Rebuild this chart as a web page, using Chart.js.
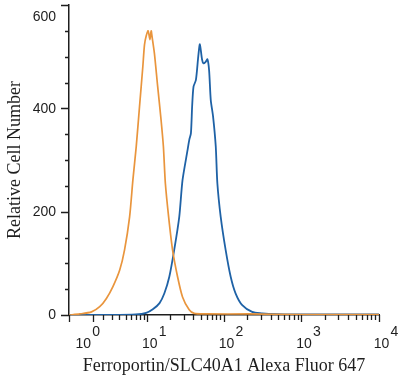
<!DOCTYPE html>
<html>
<head>
<meta charset="utf-8">
<script src="https://cdn.jsdelivr.net/npm/chart.js"></script>
<style>
  html, body { margin: 0; padding: 0; background: #ffffff; }
  #wrap { width: 400px; height: 377px; }
</style>
</head>
<body>
<div id="wrap"><canvas id="c" width="400" height="377"></canvas></div>
<script>
// ---- data (fluorescence intensity vs relative cell number) ----
const controlX = [-1.1, -0.14, 0.88, 1.65, 2.35, 3.12, 4.05, 4.81, 5.71, 6.36, 7.09, 7.87, 8.74, 9.20, 9.70, 10.3, 10.9, 11.3, 11.7, 12.5, 13.8, 15.3, 16.4, 17.4, 19.2, 21.6, 25.1, 29.1, 35.5, 41.2, 60, 209, 1000, 10000];
const controlY = [0, 2, 6, 16, 32, 55, 87, 126, 190, 261, 326, 403, 481, 523, 540, 550, 533, 550, 536, 506, 442, 377, 326, 255, 190, 126, 74, 35, 10, 3, 2, 2, 1, 1];

const stainedX = [-1.1, 3, 7, 9.7, 11.9, 14.6, 16.9, 19.6, 22.7, 26.4, 29.1, 33.8, 35.6, 37.4, 38.8, 40.4, 43.4, 46.5, 48.8, 52, 54.3, 58, 61.1, 64.2, 67.5, 72.3, 78.3, 82.1, 90.7, 105, 122, 141, 172, 231, 310, 378, 1000, 10000];
const stainedY = [0, 0, 1, 4, 11, 23, 42, 74, 126, 190, 261, 319, 339, 352, 405, 442, 455, 500, 524, 495, 487, 490, 495, 474, 416, 384, 326, 255, 190, 126, 74, 42, 19, 6, 3, 2, 1, 1];

const xMajorTicks = [1, 10, 100, 1000, 10000];
const xTickExponents = ['0', '1', '2', '3', '4'];
const yMajorTicks = [0, 200, 400, 600];
const yMinorStep = 50;

const xTitle = 'Ferroportin/SLC40A1 Alexa Fluor 647';
const yTitle = 'Relative Cell Number';

// ---- biexponential (arcsinh) axis transform ----
const BIEX_C = 1.45;
function gfun(v) { return Math.asinh(v / (2 * BIEX_C)) / Math.LN10 + Math.log10(BIEX_C); }
function ginv(G) { return 2 * BIEX_C * Math.sinh((G - Math.log10(BIEX_C)) * Math.LN10); }

class BiexScale extends Chart.LinearScale {
  determineDataLimits() { this.min = this.options.min; this.max = this.options.max; }
  buildTicks() { return xMajorTicks.map(v => ({ value: v, major: true })); }
  configure() {
    super.configure();
    this._g0 = gfun(this.min);
    this._gr = gfun(this.max) - gfun(this.min);
  }
  getPixelForValue(v) { return this.getPixelForDecimal((gfun(v) - this._g0) / this._gr); }
  getValueForPixel(p) { return ginv(this.getDecimalForPixel(p) * this._gr + this._g0); }
}
BiexScale.id = 'biex';
BiexScale.defaults = {};
Chart.register(BiexScale);

const INK = '#1e1e1e';

const axisDecor = {
  id: 'axisDecor',
  afterDraw(chart) {
    const ctx = chart.ctx;
    const xs = chart.scales.x, ys = chart.scales.y;
    const y0 = ys.getPixelForValue(0);
    const xl = xs.left;
    ctx.save();
    ctx.strokeStyle = INK;
    ctx.lineWidth = 1.3;
    ctx.beginPath();
    // x major ticks + axis-start tick
    [xs.min].concat(xMajorTicks).forEach(v => {
      const px = Math.round(xs.getPixelForValue(v)) + 0.5;
      ctx.moveTo(px, y0); ctx.lineTo(px, y0 + 7);
    });
    // x minor ticks
    for (let d = 0; d < xMajorTicks.length - 1; d++) {
      for (let k = 2; k <= 9; k++) {
        const px = Math.round(xs.getPixelForValue(k * xMajorTicks[d])) + 0.5;
        ctx.moveTo(px, y0); ctx.lineTo(px, y0 + 5);
      }
    }
    // y ticks
    for (let v = 0; v <= ys.max; v += yMinorStep) {
      const py = Math.round(ys.getPixelForValue(v)) + 0.5;
      const major = yMajorTicks.includes(v);
      ctx.moveTo(xl - (major ? 8 : 4), py); ctx.lineTo(xl, py);
    }
    ctx.stroke();

    // y labels
    ctx.fillStyle = INK;
    ctx.font = '14px "Liberation Sans", Arial, sans-serif';
    ctx.textAlign = 'right';
    ctx.textBaseline = 'middle';
    yMajorTicks.forEach(v => {
      let py = ys.getPixelForValue(v) + 0.5;
      py = Math.max(py, 17);
      ctx.fillText(String(v), xl - 13, py);
    });

    // x labels: 10 with superscript exponent
    xMajorTicks.forEach((v, i) => {
      const px = xs.getPixelForValue(v);
      const shift = i === 0 ? -12 : 0;
      ctx.font = '14px "Liberation Sans", Arial, sans-serif';
      ctx.textAlign = 'center';
      ctx.textBaseline = 'alphabetic';
      ctx.fillText('10', px + 2.5 + shift, 348);
      ctx.font = '14px "Liberation Sans", Arial, sans-serif';
      ctx.textAlign = 'left';
      ctx.fillText(xTickExponents[i], px + 11.5 + shift, 336);
    });
    ctx.restore();
  }
};

new Chart(document.getElementById('c'), {
  type: 'line',
  data: {
    datasets: [
      {
        label: 'Isotype control',
        data: controlX.map((x, i) => ({ x: x, y: controlY[i] })),
        borderColor: '#E9953D',
        borderWidth: 1.7,
        pointRadius: 0,
        tension: 0.25,
        fill: false
      },
      {
        label: 'Ferroportin/SLC40A1',
        data: stainedX.map((x, i) => ({ x: x, y: stainedY[i] })),
        borderColor: '#1F62A6',
        borderWidth: 1.8,
        pointRadius: 0,
        tension: 0.25,
        fill: false
      }
    ]
  },
  options: {
    responsive: false,
    animation: false,
    layout: { padding: { top: 5, right: 21, bottom: 0, left: 0 } },
    plugins: { legend: { display: false }, tooltip: { enabled: false } },
    scales: {
      x: {
        type: 'biex',
        min: -1.1,
        max: 10000,
        grid: { display: false, drawTicks: false },
        border: { display: true, color: INK, width: 1.5 },
        ticks: { display: false },
        title: {
          display: true,
          text: xTitle,
          color: INK,
          font: { family: '"Liberation Serif", "Times New Roman", serif', size: 18 },
          padding: { top: 0, bottom: 0 }
        },
        afterFit(scale) { scale.height = 62; }
      },
      y: {
        type: 'linear',
        min: 0,
        max: 600,
        grid: { display: false, drawTicks: false },
        border: { display: true, color: INK, width: 1.5 },
        ticks: { display: false, stepSize: 50 },
        title: {
          display: true,
          text: yTitle,
          color: INK,
          font: { family: '"Liberation Serif", "Times New Roman", serif', size: 18 },
          padding: { top: 4, bottom: 0 }
        },
        afterFit(scale) { scale.width = 69; }
      }
    }
  },
  plugins: [axisDecor]
});
</script>
</body>
</html>
